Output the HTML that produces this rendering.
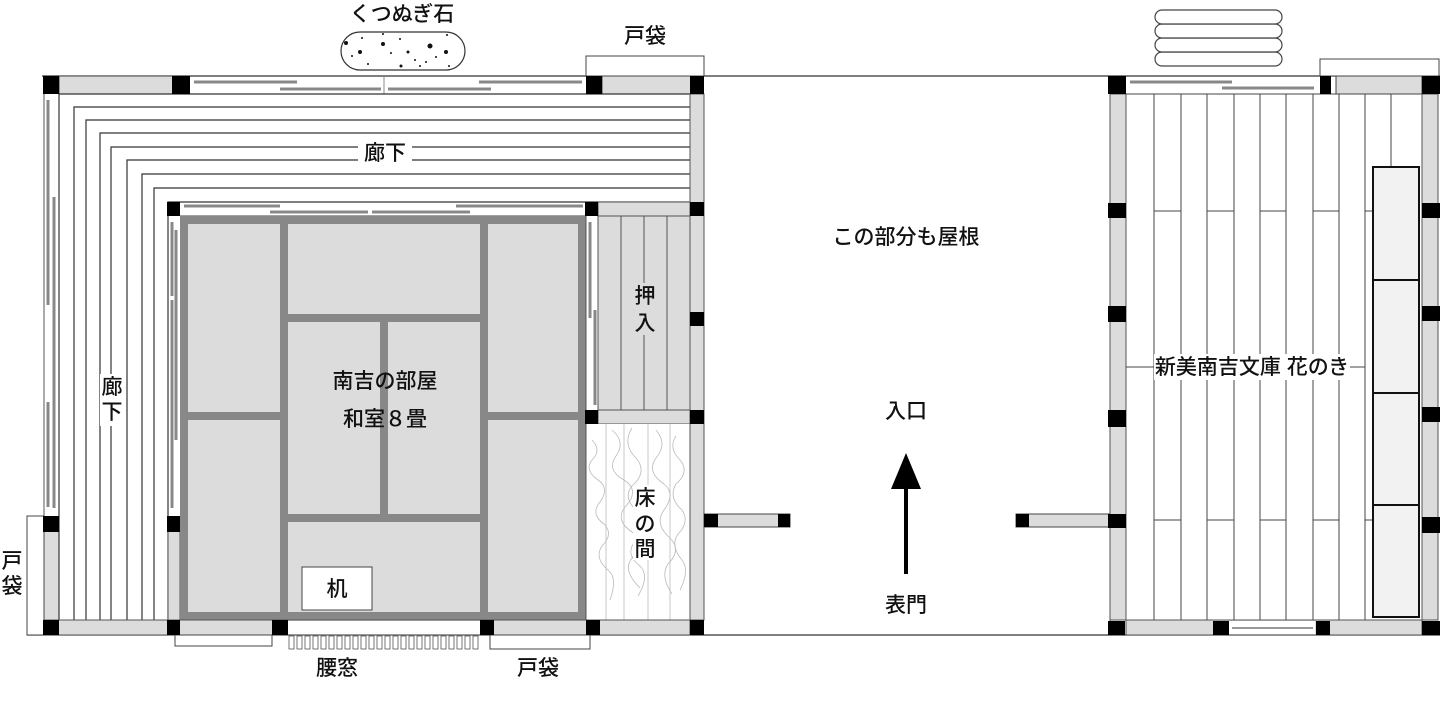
<!DOCTYPE html>
<html><head><meta charset="utf-8"><style>
html,body{margin:0;padding:0;background:#fff}
svg{display:block}
text{font-family:"Liberation Sans","Noto Sans CJK JP",sans-serif;font-size:21px;font-weight:500;fill:#111}
</style></head><body>
<svg width="1440" height="721" viewBox="0 0 1440 721" xmlns="http://www.w3.org/2000/svg">
<g stroke-linecap="butt">
<line x1="42" y1="76" x2="1440" y2="76" stroke="#333" stroke-width="1.2"/>
<line x1="27" y1="635" x2="1440" y2="635" stroke="#333" stroke-width="1.2"/>

<rect x="59" y="76" width="114" height="18" fill="#dcdcdc" stroke="#444" stroke-width="1"/>
<rect x="602" y="76" width="90" height="18" fill="#dcdcdc" stroke="#444" stroke-width="1"/>
<line x1="190" y1="94" x2="586" y2="94" stroke="#444" stroke-width="1"/>
<line x1="384" y1="76" x2="384" y2="94" stroke="#888" stroke-width="1"/>
<line x1="194" y1="82" x2="297" y2="82" stroke="#888" stroke-width="3"/>
<line x1="280" y1="89" x2="381" y2="89" stroke="#888" stroke-width="3"/>
<line x1="388" y1="89" x2="491" y2="89" stroke="#888" stroke-width="3"/>
<line x1="479" y1="82" x2="582" y2="82" stroke="#888" stroke-width="3"/>
<line x1="44" y1="94" x2="44" y2="620" stroke="#555" stroke-width="1"/>
<line x1="59" y1="94" x2="59" y2="620" stroke="#555" stroke-width="1"/>
<line x1="48" y1="100" x2="48" y2="305" stroke="#888" stroke-width="3"/>
<line x1="54" y1="197" x2="54" y2="400" stroke="#888" stroke-width="3"/>
<line x1="54" y1="305" x2="54" y2="508" stroke="#888" stroke-width="3"/>
<line x1="48" y1="402" x2="48" y2="507" stroke="#888" stroke-width="3"/>
<rect x="44" y="527" width="15" height="93" fill="#dcdcdc" stroke="#555" stroke-width="1"/>
<rect x="27" y="516" width="17" height="119" fill="#fff" stroke="#444" stroke-width="1"/>
<g stroke="#333" stroke-width="1.2" fill="none">
<polyline points="59,620 59,94 690,94"/>
<polyline points="74,620 74,107 690,107"/>
<polyline points="86,620 86,120 690,120"/>
<polyline points="100,620 100,133 690,133"/>
<polyline points="111,620 111,147 690,147"/>
<polyline points="127,620 127,160 690,160"/>
<polyline points="142,620 142,174 690,174"/>
<polyline points="154,620 154,188 690,188"/>
<polyline points="168,620 168,202 690,202"/>
</g>
<line x1="180" y1="216" x2="586" y2="216" stroke="#444" stroke-width="1"/>
<line x1="184" y1="206" x2="280" y2="206" stroke="#888" stroke-width="3"/>
<line x1="270" y1="212" x2="368" y2="212" stroke="#888" stroke-width="3"/>
<line x1="372" y1="212" x2="470" y2="212" stroke="#888" stroke-width="3"/>
<line x1="456" y1="206" x2="583" y2="206" stroke="#888" stroke-width="3"/>
<line x1="172" y1="222" x2="172" y2="296" stroke="#888" stroke-width="3"/>
<line x1="176" y1="230" x2="176" y2="440" stroke="#888" stroke-width="3"/>
<line x1="172" y1="300" x2="172" y2="508" stroke="#888" stroke-width="3"/>
<rect x="168" y="527" width="12" height="93" fill="#dcdcdc" stroke="#555" stroke-width="1"/>
<rect x="180" y="216" width="406" height="404" fill="#dcdcdc"/>
<g stroke="#888" stroke-width="8" fill="none">
<rect x="184" y="220" width="398" height="396"/>
<line x1="284" y1="220" x2="284" y2="616"/>
<line x1="484" y1="220" x2="484" y2="616"/>
<line x1="184" y1="416" x2="284" y2="416"/>
<line x1="484" y1="416" x2="582" y2="416"/>
<line x1="284" y1="318" x2="484" y2="318"/>
<line x1="284" y1="518" x2="484" y2="518"/>
<line x1="384" y1="318" x2="384" y2="518"/>
</g>
<line x1="586" y1="216" x2="586" y2="410" stroke="#555" stroke-width="1"/>
<line x1="598" y1="210" x2="598" y2="410" stroke="#555" stroke-width="1"/>
<line x1="590" y1="222" x2="590" y2="318" stroke="#888" stroke-width="3"/>
<line x1="595" y1="310" x2="595" y2="405" stroke="#888" stroke-width="3"/>
<rect x="302" y="567" width="70" height="43" fill="#fff" stroke="#444" stroke-width="1"/>
<rect x="598" y="202" width="92" height="208" fill="#dcdcdc" stroke="#555" stroke-width="1"/>
<line x1="598" y1="216" x2="690" y2="216" stroke="#555" stroke-width="1"/>
<g stroke="#555" stroke-width="1"><line x1="621" y1="216" x2="621" y2="410"/><line x1="644" y1="216" x2="644" y2="410"/><line x1="667" y1="216" x2="667" y2="410"/></g>
<rect x="598" y="410" width="92" height="14" fill="#dcdcdc" stroke="#555" stroke-width="1"/>
<rect x="586" y="424" width="104" height="196" fill="#fff"/>
<g stroke="#bbb" stroke-width="0.8" fill="none">
<line x1="606" y1="424" x2="606" y2="620"/><line x1="624" y1="424" x2="624" y2="620"/><line x1="648" y1="424" x2="648" y2="620"/><line x1="670" y1="424" x2="670" y2="620"/>
<path d="M592 440 q10 10 0 20 q-8 10 6 20 q12 8 2 22 q-10 12 4 22 q10 10 -2 22 q-8 12 6 24 q10 8 2 30"/>
<path d="M612 430 q14 12 4 26 q-10 14 8 24 q16 10 2 26 q-12 14 6 26 q14 10 0 26 q-10 12 8 30"/>
<path d="M632 428 q-10 16 4 30 q12 14 -4 28 q-10 12 6 26 q12 14 -2 28 q-12 14 4 26 q10 10 -2 30"/>
<path d="M656 430 q12 14 0 28 q-10 14 8 26 q12 10 0 26 q-10 14 6 28 q12 12 -2 26 q-8 12 4 30"/>
<path d="M676 436 q-8 12 4 24 q10 12 -4 24 q-8 14 6 26 q8 12 -4 24 q-8 12 4 26 q8 10 -2 30"/>
</g>
<line x1="586" y1="424" x2="586" y2="620" stroke="#555" stroke-width="1"/>
<rect x="690" y="94" width="14" height="526" fill="#dcdcdc" stroke="#555" stroke-width="1"/>
<rect x="44" y="620" width="646" height="15" fill="#dcdcdc" stroke="#555" stroke-width="1"/>
<rect x="288" y="621" width="192" height="13" fill="#fff"/>
<rect x="175" y="635" width="97" height="11" fill="#fff" stroke="#444" stroke-width="1"/>
<rect x="490" y="635" width="100" height="14" fill="#fff" stroke="#444" stroke-width="1"/>
<g fill="#fff" stroke="#555" stroke-width="0.8">
<rect x="289" y="636" width="5" height="13"/><rect x="297" y="636" width="5" height="13"/><rect x="305" y="636" width="5" height="13"/><rect x="313" y="636" width="5" height="13"/><rect x="321" y="636" width="5" height="13"/><rect x="329" y="636" width="5" height="13"/><rect x="337" y="636" width="5" height="13"/><rect x="345" y="636" width="5" height="13"/><rect x="353" y="636" width="5" height="13"/><rect x="361" y="636" width="5" height="13"/><rect x="369" y="636" width="5" height="13"/><rect x="377" y="636" width="5" height="13"/><rect x="385" y="636" width="5" height="13"/><rect x="393" y="636" width="5" height="13"/><rect x="401" y="636" width="5" height="13"/><rect x="409" y="636" width="5" height="13"/><rect x="417" y="636" width="5" height="13"/><rect x="425" y="636" width="5" height="13"/><rect x="433" y="636" width="5" height="13"/><rect x="441" y="636" width="5" height="13"/><rect x="449" y="636" width="5" height="13"/><rect x="457" y="636" width="5" height="13"/><rect x="465" y="636" width="5" height="13"/><rect x="473" y="636" width="5" height="13"/>
</g>
<rect x="586" y="56" width="118" height="20" fill="#fff" stroke="#444" stroke-width="1"/>
<g fill="#000">
<rect x="43" y="76" width="16" height="18"/><rect x="172" y="76" width="18" height="18"/><rect x="586" y="76" width="16" height="18"/><rect x="690" y="76" width="14" height="18"/>
<rect x="167" y="202" width="13" height="14"/><rect x="585" y="202" width="13" height="14"/><rect x="690" y="202" width="14" height="14"/>
<rect x="690" y="312" width="14" height="14"/><rect x="585" y="410" width="13" height="14"/><rect x="690" y="410" width="14" height="14"/>
<rect x="43" y="516" width="16" height="16"/><rect x="167" y="516" width="13" height="16"/>
<rect x="43" y="620" width="16" height="15"/><rect x="167" y="620" width="13" height="15"/><rect x="272" y="620" width="16" height="15"/><rect x="480" y="620" width="14" height="15"/><rect x="586" y="620" width="14" height="15"/><rect x="690" y="620" width="14" height="15"/>
</g>
<rect x="704" y="514" width="86" height="13" fill="#dcdcdc" stroke="#444" stroke-width="1"/>
<rect x="704" y="514" width="14" height="13" fill="#000"/><rect x="778" y="514" width="12" height="13" fill="#000"/>
<rect x="1016" y="514" width="94" height="13" fill="#dcdcdc" stroke="#444" stroke-width="1"/>
<rect x="1016" y="514" width="13" height="13" fill="#000"/>

<line x1="1110" y1="76" x2="1110" y2="635" stroke="#555" stroke-width="1"/>
<rect x="1110" y="94" width="16" height="526" fill="#dcdcdc" stroke="#555" stroke-width="1"/>
<rect x="1422" y="94" width="16" height="526" fill="#dcdcdc" stroke="#555" stroke-width="1"/>
<line x1="1126" y1="94" x2="1422" y2="94" stroke="#444" stroke-width="1"/>
<line x1="1130" y1="82" x2="1232" y2="82" stroke="#888" stroke-width="3"/>
<line x1="1222" y1="88" x2="1314" y2="88" stroke="#888" stroke-width="3"/>
<rect x="1336" y="76" width="86" height="18" fill="#dcdcdc" stroke="#444" stroke-width="1"/>
<rect x="1320" y="59" width="119" height="17" fill="#fff" stroke="#444" stroke-width="1"/>
<g stroke="#444" stroke-width="1">
<line x1="1154" y1="94" x2="1154" y2="620"/><line x1="1181" y1="94" x2="1181" y2="620"/><line x1="1207" y1="94" x2="1207" y2="620"/><line x1="1234" y1="94" x2="1234" y2="620"/><line x1="1260" y1="94" x2="1260" y2="620"/><line x1="1286" y1="94" x2="1286" y2="620"/><line x1="1313" y1="94" x2="1313" y2="620"/><line x1="1339" y1="94" x2="1339" y2="620"/><line x1="1365" y1="94" x2="1365" y2="620"/><line x1="1391" y1="94" x2="1391" y2="167"/>
<line x1="1154" y1="211" x2="1181" y2="211"/><line x1="1207" y1="211" x2="1234" y2="211"/><line x1="1260" y1="211" x2="1286" y2="211"/><line x1="1313" y1="211" x2="1339" y2="211"/><line x1="1365" y1="211" x2="1373" y2="211"/>
<line x1="1154" y1="520" x2="1181" y2="520"/><line x1="1207" y1="520" x2="1234" y2="520"/><line x1="1260" y1="520" x2="1286" y2="520"/><line x1="1313" y1="520" x2="1339" y2="520"/><line x1="1365" y1="520" x2="1373" y2="520"/>
<line x1="1126" y1="367" x2="1365" y2="367"/>
</g>
<rect x="1373" y="167" width="46" height="450" fill="#f2f2f2" stroke="#111" stroke-width="2"/>
<g stroke="#111" stroke-width="2"><line x1="1373" y1="280" x2="1419" y2="280"/><line x1="1373" y1="393" x2="1419" y2="393"/><line x1="1373" y1="505" x2="1419" y2="505"/></g>
<rect x="1126" y="620" width="296" height="15" fill="#dcdcdc" stroke="#555" stroke-width="1"/>
<rect x="1229" y="621" width="86" height="13" fill="#fff"/>
<line x1="1232" y1="628" x2="1313" y2="628" stroke="#777" stroke-width="1.5"/>
<g fill="#000">
<rect x="1108" y="76" width="18" height="18"/><rect x="1320" y="76" width="11" height="18"/><rect x="1422" y="76" width="18" height="18"/>
<rect x="1108" y="203" width="18" height="15"/><rect x="1422" y="203" width="18" height="15"/>
<rect x="1108" y="306" width="18" height="16"/><rect x="1422" y="306" width="18" height="15"/>
<rect x="1108" y="410" width="18" height="17"/><rect x="1422" y="407" width="18" height="15"/>
<rect x="1108" y="514" width="18" height="14"/><rect x="1422" y="517" width="18" height="16"/>
<rect x="1108" y="621" width="17" height="14"/><rect x="1213" y="621" width="16" height="14"/><rect x="1316" y="621" width="14" height="14"/><rect x="1422" y="621" width="18" height="14"/>
</g>
<g fill="#fff" stroke="#444" stroke-width="1.2">
<rect x="1155" y="52" width="127" height="14" rx="7"/>
<rect x="1155" y="38" width="127" height="14" rx="7"/>
<rect x="1155" y="24" width="127" height="14" rx="7"/>
<rect x="1155" y="10" width="127" height="14" rx="7"/>
</g>
<rect x="341" y="32" width="124" height="38" rx="19" fill="#fff" stroke="#333" stroke-width="1.2"/>
<g fill="#111">
<circle cx="346" cy="43" r="2"/><circle cx="360" cy="52" r="2"/><circle cx="383" cy="44" r="2"/><circle cx="391" cy="53" r="1"/><circle cx="408" cy="52" r="1.5"/><circle cx="430" cy="46" r="2.5"/><circle cx="446" cy="52" r="2"/><circle cx="401" cy="66" r="1.5"/><circle cx="420" cy="66" r="1"/><circle cx="449" cy="66" r="1"/><circle cx="368" cy="64" r="1"/><circle cx="362" cy="38" r="1"/><circle cx="383" cy="34" r="1"/><circle cx="400" cy="39" r="1"/><circle cx="436" cy="57" r="1"/><circle cx="415" cy="60" r="1"/><circle cx="426" cy="62" r="1"/><circle cx="352" cy="56" r="1"/><circle cx="447" cy="35" r="1"/>
</g>
<line x1="906" y1="486" x2="906" y2="574" stroke="#000" stroke-width="4"/>
<polygon points="906,453 891,489 921,489" fill="#000"/>
</g>

<text x="402" y="21" text-anchor="middle">くつぬぎ石</text>
<text x="645" y="43" text-anchor="middle">戸袋</text>
<rect x="358" y="140" width="54" height="26" fill="#fff"/>
<text x="385" y="160" text-anchor="middle">廊下</text>
<rect x="100" y="374" width="24" height="52" fill="#fff"/>
<text x="112" y="394" text-anchor="middle">廊</text>
<text x="112" y="419" text-anchor="middle">下</text>
<rect x="632" y="283" width="26" height="52" fill="#dcdcdc"/>
<text x="645" y="303" text-anchor="middle">押</text>
<text x="645" y="330" text-anchor="middle">入</text>
<text x="385" y="388" text-anchor="middle">南吉の部屋</text>
<text x="385" y="426" text-anchor="middle">和室８畳</text>
<rect x="633" y="485" width="24" height="75" fill="#fff"/>
<text x="645" y="505" text-anchor="middle">床</text>
<text x="645" y="531" text-anchor="middle">の</text>
<text x="645" y="556" text-anchor="middle">間</text>
<text x="337" y="596" text-anchor="middle">机</text>
<text x="12" y="568" text-anchor="middle">戸</text>
<text x="12" y="593" text-anchor="middle">袋</text>
<text x="337" y="675" text-anchor="middle">腰窓</text>
<text x="538" y="675" text-anchor="middle">戸袋</text>
<text x="906" y="244" text-anchor="middle">この部分も屋根</text>
<text x="906" y="418" text-anchor="middle">入口</text>
<text x="906" y="612" text-anchor="middle">表門</text>
<rect x="1154" y="354" width="196" height="26" fill="#fff"/>
<text x="1252" y="374" text-anchor="middle">新美南吉文庫 花のき</text>
</svg>
</body></html>
